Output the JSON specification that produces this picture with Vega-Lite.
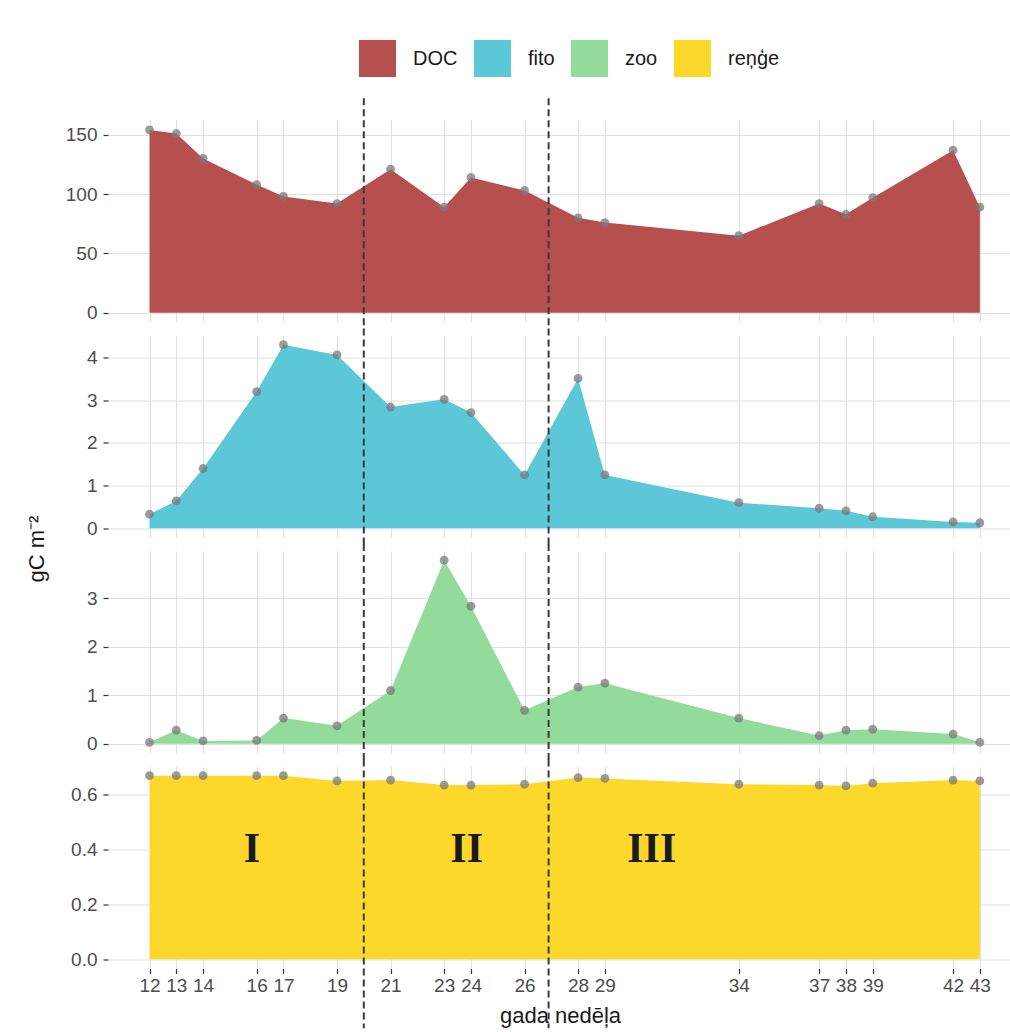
{
  "$schema": "https://vega.github.io/schema/vega-lite/v6.json",
  "background": "white",
  "padding": {"left": 25, "top": 40, "right": 0, "bottom": 0},
  "spacing": 13.5,
  "bounds": "flush",
  "datasets": {
    "main": [
      {"week": 12, "var": "DOC", "value": 154}, {"week": 13, "var": "DOC", "value": 151}, {"week": 14, "var": "DOC", "value": 130},
      {"week": 16, "var": "DOC", "value": 108}, {"week": 17, "var": "DOC", "value": 98}, {"week": 19, "var": "DOC", "value": 92},
      {"week": 21, "var": "DOC", "value": 121}, {"week": 23, "var": "DOC", "value": 89}, {"week": 24, "var": "DOC", "value": 114},
      {"week": 26, "var": "DOC", "value": 103}, {"week": 28, "var": "DOC", "value": 80}, {"week": 29, "var": "DOC", "value": 76},
      {"week": 34, "var": "DOC", "value": 65}, {"week": 37, "var": "DOC", "value": 92}, {"week": 38, "var": "DOC", "value": 83},
      {"week": 39, "var": "DOC", "value": 97}, {"week": 42, "var": "DOC", "value": 137}, {"week": 43, "var": "DOC", "value": 89},
      {"week": 12, "var": "fito", "value": 0.33}, {"week": 13, "var": "fito", "value": 0.64}, {"week": 14, "var": "fito", "value": 1.40},
      {"week": 16, "var": "fito", "value": 3.20}, {"week": 17, "var": "fito", "value": 4.30}, {"week": 19, "var": "fito", "value": 4.06},
      {"week": 21, "var": "fito", "value": 2.84}, {"week": 23, "var": "fito", "value": 3.02}, {"week": 24, "var": "fito", "value": 2.71},
      {"week": 26, "var": "fito", "value": 1.25}, {"week": 28, "var": "fito", "value": 3.51}, {"week": 29, "var": "fito", "value": 1.25},
      {"week": 34, "var": "fito", "value": 0.60}, {"week": 37, "var": "fito", "value": 0.47}, {"week": 38, "var": "fito", "value": 0.41},
      {"week": 39, "var": "fito", "value": 0.27}, {"week": 42, "var": "fito", "value": 0.15}, {"week": 43, "var": "fito", "value": 0.13},
      {"week": 12, "var": "zoo", "value": 0.03}, {"week": 13, "var": "zoo", "value": 0.28}, {"week": 14, "var": "zoo", "value": 0.06},
      {"week": 16, "var": "zoo", "value": 0.07}, {"week": 17, "var": "zoo", "value": 0.53}, {"week": 19, "var": "zoo", "value": 0.37},
      {"week": 21, "var": "zoo", "value": 1.10}, {"week": 23, "var": "zoo", "value": 3.79}, {"week": 24, "var": "zoo", "value": 2.84},
      {"week": 26, "var": "zoo", "value": 0.69}, {"week": 28, "var": "zoo", "value": 1.17}, {"week": 29, "var": "zoo", "value": 1.25},
      {"week": 34, "var": "zoo", "value": 0.53}, {"week": 37, "var": "zoo", "value": 0.17}, {"week": 38, "var": "zoo", "value": 0.28},
      {"week": 39, "var": "zoo", "value": 0.30}, {"week": 42, "var": "zoo", "value": 0.20}, {"week": 43, "var": "zoo", "value": 0.03},
      {"week": 12, "var": "reņģe", "value": 0.667}, {"week": 13, "var": "reņģe", "value": 0.667}, {"week": 14, "var": "reņģe", "value": 0.667},
      {"week": 16, "var": "reņģe", "value": 0.667}, {"week": 17, "var": "reņģe", "value": 0.667}, {"week": 19, "var": "reņģe", "value": 0.648},
      {"week": 21, "var": "reņģe", "value": 0.651}, {"week": 23, "var": "reņģe", "value": 0.633}, {"week": 24, "var": "reņģe", "value": 0.633},
      {"week": 26, "var": "reņģe", "value": 0.636}, {"week": 28, "var": "reņģe", "value": 0.660}, {"week": 29, "var": "reņģe", "value": 0.657},
      {"week": 34, "var": "reņģe", "value": 0.636}, {"week": 37, "var": "reņģe", "value": 0.633}, {"week": 38, "var": "reņģe", "value": 0.630},
      {"week": 39, "var": "reņģe", "value": 0.640}, {"week": 42, "var": "reņģe", "value": 0.651}, {"week": 43, "var": "reņģe", "value": 0.648}
    ],
    "periods": [{"week": 20}, {"week": 26.9}],
    "phases": [{"week": 15.82, "value": 0.40, "phase": "I"}, {"week": 23.84, "value": 0.40, "phase": "II"}, {"week": 30.75, "value": 0.40, "phase": "III"}]
  },
  "config": {
    "view": {"stroke": null},
    "font": "Liberation Sans",
    "axis": {
      "labelFont": "Liberation Sans", "labelFontSize": 19, "labelColor": "#4d4d4d",
      "tickColor": "#333333", "tickSize": 5, "tickWidth": 1.2, "domain": false,
      "gridColor": "#e0e0e0", "gridWidth": 1.1,
      "titleFont": "Liberation Sans", "titleFontSize": 22, "titleFontWeight": "normal", "titleColor": "#1a1a1a"
    },
    "axisY": {"labelPadding": 6},
    "legend": {
      "labelFont": "Liberation Sans", "labelFontSize": 20, "labelColor": "#1a1a1a",
      "symbolType": "square", "symbolSize": 1369, "symbolStrokeWidth": 0, "symbolOpacity": 1
    }
  },
  "resolve": {"scale": {"color": "shared", "x": "shared"}},
  "vconcat": [
    {
      "width": 904, "height": 202,
      "encoding": {
        "x": {"field": "week", "type": "quantitative", "scale": {"domain": [10.45, 44.2], "nice": false, "zero": false},
              "axis": {"values": [12,13,14,16,17,19,21,23,24,26,28,29,34,37,38,39,42,43], "labels": false, "ticks": false, "tickSize": 0, "tickOpacity": 0, "title": null}}
      },
      "layer": [
        {
          "data": {"name": "main"},
          "transform": [{"filter": "datum.var === 'DOC'"}],
          "mark": {"type": "area", "opacity": 1},
          "encoding": {
            "y": {"field": "value", "type": "quantitative", "scale": {"domain": [-7.7, 162.4], "nice": false, "zero": false},
                  "axis": {"values": [0, 50, 100, 150], "format": "d", "title": null}},
            "y2": {"datum": 0},
            "color": {"field": "var", "type": "nominal",
                      "scale": {"domain": ["DOC", "fito", "zoo", "reņģe"], "range": ["#b5504e", "#5cc7d6", "#92db9a", "#fcd82a"]},
                      "legend": {"title": null, "orient": "none", "direction": "horizontal", "legendX": 251, "legendY": -80, "labelOffset": 17, "columnPadding": 16}}
          }
        },
        {
          "data": {"name": "main"},
          "transform": [{"filter": "datum.var === 'DOC'"}],
          "mark": {"type": "point", "filled": true, "color": "#7a7a7a", "opacity": 0.75, "size": 78},
          "encoding": {"y": {"field": "value", "type": "quantitative", "axis": {"values": [0, 50, 100, 150], "format": "d", "title": null}}}
        },
        {
          "data": {"name": "periods"},
          "mark": {"type": "rule", "color": "#3a3a3a", "strokeWidth": 2, "strokeDash": [7, 4]},
          "encoding": {"y": {"datum": 180.8, "type": "quantitative", "axis": {"values": [0, 50, 100, 150], "format": "d", "title": null}}, "y2": {"datum": -13.6}}
        }
      ]
    },
    {
      "width": 904, "height": 202,
      "encoding": {
        "x": {"field": "week", "type": "quantitative", "scale": {"domain": [10.45, 44.2], "nice": false, "zero": false},
              "axis": {"values": [12,13,14,16,17,19,21,23,24,26,28,29,34,37,38,39,42,43], "labels": false, "ticks": false, "tickSize": 0, "tickOpacity": 0, "title": null}}
      },
      "layer": [
        {
          "data": {"name": "main"},
          "transform": [{"filter": "datum.var === 'fito'"}],
          "mark": {"type": "area", "opacity": 1},
          "encoding": {
            "y": {"field": "value", "type": "quantitative", "scale": {"domain": [-0.215, 4.515], "nice": false, "zero": false},
                  "axis": {"values": [0, 1, 2, 3, 4], "format": "d", "title": "gC m⁻²", "titleX": -72, "titleY": 213, "titleAlign": "center", "titleBaseline": "middle", "titleAngle": -90}},
            "y2": {"datum": 0},
            "color": {"field": "var", "type": "nominal"}
          }
        },
        {
          "data": {"name": "main"},
          "transform": [{"filter": "datum.var === 'fito'"}],
          "mark": {"type": "point", "filled": true, "color": "#7a7a7a", "opacity": 0.75, "size": 78},
          "encoding": {"y": {"field": "value", "type": "quantitative", "axis": {"values": [0, 1, 2, 3, 4], "format": "d", "title": "gC m⁻²", "titleX": -72, "titleY": 213, "titleAlign": "center", "titleBaseline": "middle", "titleAngle": -90}}}
        },
        {
          "data": {"name": "periods"},
          "mark": {"type": "rule", "color": "#3a3a3a", "strokeWidth": 2, "strokeDash": [7, 4]},
          "encoding": {"y": {"datum": 4.68, "type": "quantitative", "axis": {"values": [0, 1, 2, 3, 4], "format": "d", "title": "gC m⁻²", "titleX": -72, "titleY": 213, "titleAlign": "center", "titleBaseline": "middle", "titleAngle": -90}}, "y2": {"datum": -0.38}}
        }
      ]
    },
    {
      "width": 904, "height": 202,
      "encoding": {
        "x": {"field": "week", "type": "quantitative", "scale": {"domain": [10.45, 44.2], "nice": false, "zero": false},
              "axis": {"values": [12,13,14,16,17,19,21,23,24,26,28,29,34,37,38,39,42,43], "labels": false, "ticks": false, "tickSize": 0, "tickOpacity": 0, "title": null}}
      },
      "layer": [
        {
          "data": {"name": "main"},
          "transform": [{"filter": "datum.var === 'zoo'"}],
          "mark": {"type": "area", "opacity": 1},
          "encoding": {
            "y": {"field": "value", "type": "quantitative", "scale": {"domain": [-0.19, 3.98], "nice": false, "zero": false},
                  "axis": {"values": [0, 1, 2, 3], "format": "d", "title": null}},
            "y2": {"datum": 0},
            "color": {"field": "var", "type": "nominal"}
          }
        },
        {
          "data": {"name": "main"},
          "transform": [{"filter": "datum.var === 'zoo'"}],
          "mark": {"type": "point", "filled": true, "color": "#7a7a7a", "opacity": 0.75, "size": 78},
          "encoding": {"y": {"field": "value", "type": "quantitative", "axis": {"values": [0, 1, 2, 3], "format": "d", "title": null}}}
        },
        {
          "data": {"name": "periods"},
          "mark": {"type": "rule", "color": "#3a3a3a", "strokeWidth": 2, "strokeDash": [7, 4]},
          "encoding": {"y": {"datum": 4.125, "type": "quantitative", "axis": {"values": [0, 1, 2, 3], "format": "d", "title": null}}, "y2": {"datum": -0.335}}
        }
      ]
    },
    {
      "width": 904, "height": 202,
      "encoding": {
        "x": {"field": "week", "type": "quantitative", "scale": {"domain": [10.45, 44.2], "nice": false, "zero": false},
              "axis": {"values": [12,13,14,16,17,19,21,23,24,26,28,29,34,37,38,39,42,43], "title": "gada nedēļa", "labelPadding": 3, "titlePadding": 10, "labelFlush": false, "labelOverlap": false}}
      },
      "layer": [
        {
          "data": {"name": "main"},
          "transform": [{"filter": "datum.var === 'reņģe'"}],
          "mark": {"type": "area", "opacity": 1},
          "encoding": {
            "y": {"field": "value", "type": "quantitative", "scale": {"domain": [-0.0334, 0.7004], "nice": false, "zero": false},
                  "axis": {"values": [0, 0.2, 0.4, 0.6], "format": ".1f", "title": null}},
            "y2": {"datum": 0},
            "color": {"field": "var", "type": "nominal"}
          }
        },
        {
          "data": {"name": "main"},
          "transform": [{"filter": "datum.var === 'reņģe'"}],
          "mark": {"type": "point", "filled": true, "color": "#7a7a7a", "opacity": 0.75, "size": 78},
          "encoding": {"y": {"field": "value", "type": "quantitative", "axis": {"values": [0, 0.2, 0.4, 0.6], "format": ".1f", "title": null}}}
        },
        {
          "data": {"name": "phases"},
          "mark": {"type": "text", "font": "Liberation Serif", "fontSize": 42, "fontWeight": "bold", "color": "#1a1a1a", "baseline": "middle", "align": "center"},
          "encoding": {"y": {"field": "value", "type": "quantitative", "axis": {"values": [0, 0.2, 0.4, 0.6], "format": ".1f", "title": null}}, "text": {"field": "phase"}}
        },
        {
          "data": {"name": "periods"},
          "mark": {"type": "rule", "color": "#3a3a3a", "strokeWidth": 2, "strokeDash": [7, 4]},
          "encoding": {"y": {"datum": 0.726, "type": "quantitative", "axis": {"values": [0, 0.2, 0.4, 0.6], "format": ".1f", "title": null}}, "y2": {"datum": -0.25}}
        }
      ]
    }
  ]
}
